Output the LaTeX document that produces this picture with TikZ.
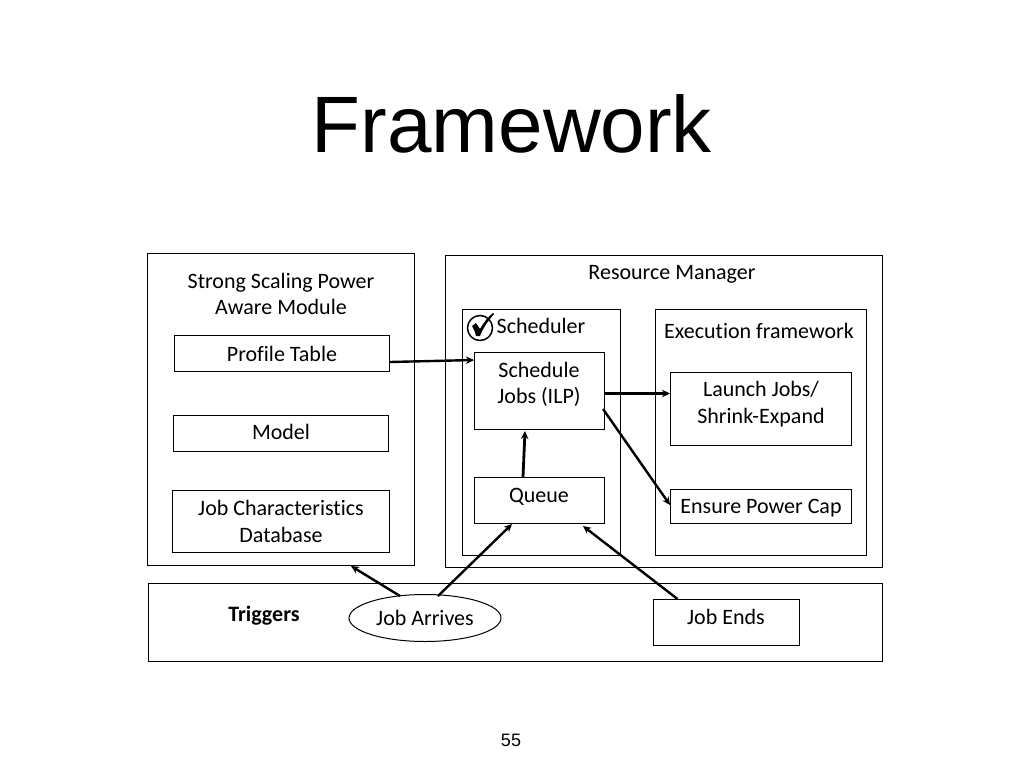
\documentclass[tikz,border=0pt]{standalone}
\usepackage{fontspec}
\setmainfont{Carlito}[Ligatures=NoCommon]
\newfontfamily\titlefont{Liberation Sans}
\usetikzlibrary{arrows.meta,calc,shapes.geometric}
\tikzset{
  x=1pt,y=-1pt,
  bx/.style={draw=black,line width=1pt,rectangle,inner sep=0pt,anchor=north west,align=center,font=\fontsize{22}{26.5}\selectfont},
  lab/.style={inner sep=0pt,align=center,font=\fontsize{22}{26.5}\selectfont},
  arr/.style={draw=black,line width=2.8pt,-{Stealth[length=8pt,width=7.5pt]}},
  thinarr/.style={arr,line width=2.4pt}
}
\newcommand{\bxn}[6]{\node[bx,minimum width=#4pt-#2pt,minimum height=#5pt-#3pt] (#1) at (#2,#3) {#6};}
\begin{document}
\begin{tikzpicture}
\useasboundingbox (0,0) rectangle (1024,768);
\fill[white] (0,0) rectangle (1024,768);
\node[inner sep=0pt,font=\titlefont\fontsize{80}{90}\selectfont] (title) at (512,124) {Framework};
\node[inner sep=0pt,font=\titlefont\fontsize{18}{20}\selectfont] (page) at (511,740) {55};
% left module
\bxn{aware}{147}{253}{414}{565}{}
\node[lab] (awarelab) at (281,294) {Strong Scaling Power\\Aware Module};
\bxn{profile}{174}{335}{389}{371}{Profile Table}
\bxn{model}{173}{415}{388}{451}{}
\node[lab] (modellab) at (281,432) {Model};
\bxn{jobdb}{172}{490}{389}{552}{Job Characteristics\\Database}
% resource manager
\bxn{rm}{445}{255}{882}{567}{}
\node[lab] (rmlab) at (672,274.5) {Resource Manager};
\bxn{sched}{462}{309}{620}{555}{}
\node[lab] (schedlab) at (541,325.5) {Scheduler};
\bxn{exec}{655}{309}{866}{555}{}
\node[lab] (execlab) at (759,331) {Execution framework};
\bxn{ilp}{474}{352}{604}{429}{}
\node[lab] (ilplab) at (539,384.5) {Schedule\\Jobs (ILP)};
\bxn{queue}{474}{477}{604}{523}{}
\node[lab] (queuelab) at (539,497) {Queue};
\bxn{launch}{670}{372}{851}{445}{}
\node[lab] (launchlab) at (761,404) {Launch Jobs/\\Shrink-Expand};
\bxn{cap}{670}{489}{851}{523}{}
\node[lab] (caplab) at (761,508) {Ensure Power Cap};
% triggers
\bxn{trig}{148}{583}{882}{661}{}
\node[lab,font=\bfseries\fontsize{22}{26}\selectfont] (triglab) at (264,615.5) {Triggers};
\node[ellipse,draw=black,line width=1pt,inner sep=0pt,minimum width=152pt,minimum height=47pt,font=\fontsize{22}{26}\selectfont,fill=white] (arrives) at (425,618) {Job Arrives};
\bxn{ends}{653}{599}{799}{645}{}
\node[lab] (endslab) at (726,616.5) {Job Ends};
% tick
\draw[line width=1.5pt] (480,328) circle (12.5);
\fill (472,326) -- (476,323) -- (480,329) .. controls (484,322) and (488,317) .. (493,313) -- (494,314) .. controls (488,321) and (483,328) .. (480,336) -- (476,336) .. controls (475,332) and (474,329) .. (472,326) -- cycle;
% connectors
\draw[thinarr] ([yshift=10pt]profile.south east) -- ([yshift=-8pt]ilp.north west);
\draw[arr] ([yshift=-41.5pt]ilp.north east) -- ([yshift=-21.5pt]launch.north west);
\draw[thinarr] ([xshift=-2pt,yshift=-57pt]ilp.north east) -- ([yshift=-16pt]cap.north west);
\draw[arr] ([xshift=49pt]queue.north west) -- ([xshift=51pt,yshift=-1pt]ilp.south west);
\draw[thinarr] ([xshift=13pt,yshift=-2pt]arrives.north) -- ([xshift=38pt]queue.south west);
\draw[thinarr] ([xshift=-49pt]ends.north) -- ([xshift=109pt,yshift=-2pt]queue.south west);
\draw[thinarr] ([xshift=-25pt,yshift=-2pt]arrives.north) -- ([xshift=204pt]aware.south west);
\end{tikzpicture}
\end{document}
